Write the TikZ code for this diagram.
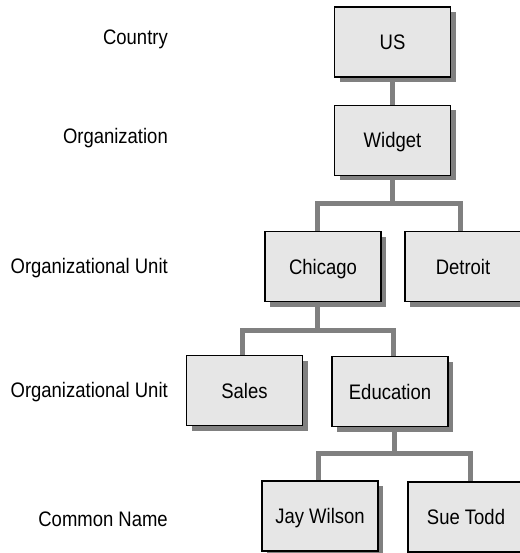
\documentclass[tikz,border=0pt]{standalone}
\usepackage{fontspec}
\setmainfont{Liberation Sans}[FakeStretch=0.88]
\usetikzlibrary{shadows,backgrounds}
\definecolor{boxfill}{HTML}{E6E6E6}
\definecolor{linkgray}{HTML}{808080}
\begin{document}
\begin{tikzpicture}[x=1pt,y=-1pt,
  orgbox/.style={draw=black, line width=1.2pt, fill=boxfill,
    minimum width=116pt, minimum height=70pt, inner sep=0pt,
    text height=15pt, text depth=0pt, font=\fontsize{21}{21}\selectfont,
    drop shadow={shadow xshift=5pt, shadow yshift=-5pt, fill=linkgray, opacity=1}},
  levellabel/.style={anchor=base east, inner sep=0pt, font=\fontsize{21}{21}\selectfont},
  conn/.style={draw=linkgray, line width=5pt}]
\useasboundingbox (0,0) rectangle (519,553);

% level captions
\node[levellabel] (lcountry) at (168,45)    {Country};
\node[levellabel] (lorg)     at (168,143.5) {Organization};
\node[levellabel] (lou1)     at (168,273.5) {Organizational Unit};
\node[levellabel] (lou2)     at (168,397.5) {Organizational Unit};
\node[levellabel] (lcn)      at (168,526)   {Common Name};

% directory entries
\node[orgbox] (us)        at (392.5,42)    {US};
\node[orgbox] (widget)    at (392.5,140.5) {Widget};
\node[orgbox] (chicago)   at (323,266.5)   {Chicago};
\node[orgbox] (detroit)   at (463,266.5)   {Detroit};
\node[orgbox] (sales)     at (244.5,390.5) {Sales};
\node[orgbox] (education) at (390,391.5)   {Education};
\node[orgbox] (jay)       at (320,516)     {Jay Wilson};
\node[orgbox] (sue)       at (466,517)     {Sue Todd};

% tree links, behind the boxes
\begin{scope}[on background layer]
  \coordinate (wj) at (392.5,203);
  \coordinate (cj) at (317,330);
  \coordinate (ej) at (394,453);
  \draw[conn] (us.south) -- (widget.north);
  \draw[conn] (widget.south) -- (wj);
  \draw[conn] ([xshift=-6pt]chicago.north) |- (wj) -| ([xshift=-3pt]detroit.north);
  \draw[conn] ([xshift=-6pt]chicago.south) -- (cj);
  \draw[conn] ([xshift=-2.5pt]sales.north) |- (cj) -| ([xshift=3pt]education.north);
  \draw[conn] ([xshift=4pt]education.south) -- (ej);
  \draw[conn] ([xshift=-2pt]jay.north) |- (ej) -| ([xshift=4pt]sue.north);
\end{scope}
\end{tikzpicture}
\end{document}
